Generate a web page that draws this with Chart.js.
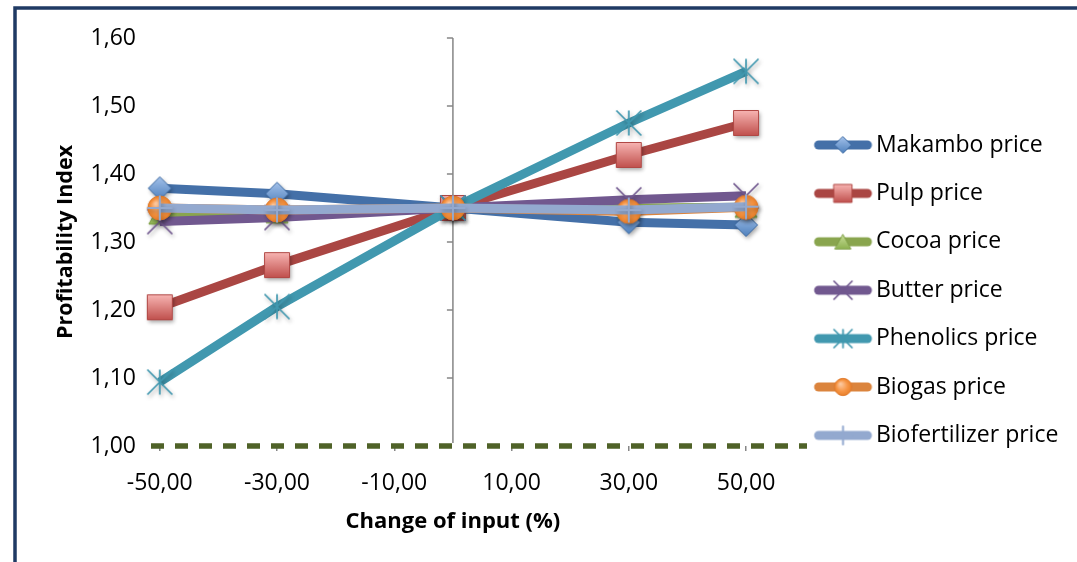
<!DOCTYPE html>
<html>
<head>
<meta charset="utf-8">
<script src="https://cdn.jsdelivr.net/npm/chart.js@4.4.1/dist/chart.umd.min.js"></script>
<style>
html,body{margin:0;padding:0;background:#fff;}
#wrap{position:relative;width:1077px;height:562px;}
canvas{display:block;}
</style>
</head>
<body>
<div id="wrap"><canvas id="c" width="1077" height="562"></canvas></div>
<script>
// ---- data ----
const changes = [-50, -30, 0, 30, 50];
const xTickValues = [-50, -30, -10, 10, 30, 50];
const yTickValues = [1.00, 1.10, 1.20, 1.30, 1.40, 1.50, 1.60];
const seriesNames = ['Makambo price', 'Pulp price', 'Cocoa price', 'Butter price', 'Phenolics price', 'Biogas price', 'Biofertilizer price'];
const makambo       = [1.379, 1.371, 1.350, 1.329, 1.325];
const pulp          = [1.204, 1.266, 1.350, 1.428, 1.475];
const cocoa         = [1.341, 1.343, 1.350, 1.350, 1.351];
const butter        = [1.330, 1.336, 1.350, 1.362, 1.368];
const phenolics     = [1.094, 1.205, 1.350, 1.475, 1.551];
const biogas        = [1.350, 1.347, 1.350, 1.345, 1.351];
const biofertilizer = [1.350, 1.347, 1.350, 1.347, 1.352];
const breakEven = 1.00;
const xTitle = 'Change of input (%)';
const yTitle = 'Profitability Index';

// ---- styles ----
const seriesValues = [makambo, pulp, cocoa, butter, phenolics, biogas, biofertilizer];
const lineColors = ['#4470a8', '#aa4643', '#89a54e', '#71588f', '#4198af', '#db843d', '#93a9cf'];
const markerKinds = ['diamond', 'square', 'triangle', 'x', 'star', 'circle', 'plus'];
const FONT = '"Open Sans", "Noto Sans", sans-serif';
const LEGEND_SIZE = 23;

function drawMarker(ctx, kind, cx, cy, k, shadow) {
  ctx.save();
  if (shadow) {
    ctx.shadowColor = 'rgba(0,0,0,0.35)';
    ctx.shadowBlur = 4;
    ctx.shadowOffsetX = 1.5;
    ctx.shadowOffsetY = 2.5;
  }
  let g;
  switch (kind) {
    case 'diamond': {
      const h = 11.5 * k;
      g = ctx.createLinearGradient(cx, cy - h, cx, cy + h);
      g.addColorStop(0, '#a3c1ea'); g.addColorStop(1, '#4f81bd');
      ctx.beginPath();
      ctx.moveTo(cx, cy - h); ctx.lineTo(cx + h, cy); ctx.lineTo(cx, cy + h); ctx.lineTo(cx - h, cy); ctx.closePath();
      ctx.fillStyle = g; ctx.fill();
      ctx.shadowColor = 'transparent';
      ctx.strokeStyle = '#3e6ba3'; ctx.lineWidth = 1; ctx.stroke();
      break;
    }
    case 'square': {
      const h = 12.5 * k;
      g = ctx.createLinearGradient(cx, cy - h, cx, cy + h);
      g.addColorStop(0, '#f7b4b2'); g.addColorStop(1, '#c0504d');
      ctx.beginPath(); ctx.rect(cx - h, cy - h, 2 * h, 2 * h);
      ctx.fillStyle = g; ctx.fill();
      ctx.shadowColor = 'transparent';
      ctx.strokeStyle = '#b04845'; ctx.lineWidth = 1; ctx.stroke();
      break;
    }
    case 'triangle': {
      const w = 11 * k, h = 10 * k;
      g = ctx.createLinearGradient(cx, cy - h, cx, cy + h);
      g.addColorStop(0, '#c8de98'); g.addColorStop(1, '#8db250');
      ctx.beginPath();
      ctx.moveTo(cx, cy - h); ctx.lineTo(cx + w, cy + h); ctx.lineTo(cx - w, cy + h); ctx.closePath();
      ctx.fillStyle = g; ctx.fill();
      ctx.shadowColor = 'transparent';
      ctx.strokeStyle = '#7e9f45'; ctx.lineWidth = 1; ctx.stroke();
      break;
    }
    case 'circle': {
      const r = 12 * k;
      g = ctx.createRadialGradient(cx - r * 0.3, cy - r * 0.35, r * 0.1, cx, cy, r);
      g.addColorStop(0, '#fbc69c'); g.addColorStop(0.6, '#f79646'); g.addColorStop(1, '#e8802b');
      ctx.beginPath(); ctx.arc(cx, cy, r, 0, Math.PI * 2);
      ctx.fillStyle = g; ctx.fill();
      ctx.shadowColor = 'transparent';
      ctx.strokeStyle = '#e07b2e'; ctx.lineWidth = 1; ctx.stroke();
      break;
    }
    case 'x': {
      const h = 12.5 * k;
      ctx.strokeStyle = '#71588f'; ctx.lineWidth = 1.7;
      ctx.beginPath();
      ctx.moveTo(cx - h, cy - h); ctx.lineTo(cx + h, cy + h);
      ctx.moveTo(cx + h, cy - h); ctx.lineTo(cx - h, cy + h);
      ctx.stroke();
      break;
    }
    case 'star': {
      const h = 12.5 * k;
      ctx.strokeStyle = '#4198af'; ctx.lineWidth = 1.7;
      ctx.beginPath();
      ctx.moveTo(cx - h, cy - h); ctx.lineTo(cx + h, cy + h);
      ctx.moveTo(cx + h, cy - h); ctx.lineTo(cx - h, cy + h);
      ctx.moveTo(cx, cy - h); ctx.lineTo(cx, cy + h);
      ctx.stroke();
      break;
    }
    case 'plus': {
      const h = 12.5 * k;
      ctx.strokeStyle = '#93a9cf'; ctx.lineWidth = 2;
      ctx.beginPath();
      ctx.moveTo(cx - h, cy); ctx.lineTo(cx + h, cy);
      ctx.moveTo(cx, cy - h); ctx.lineTo(cx, cy + h);
      ctx.stroke();
      break;
    }
  }
  ctx.restore();
}

function markerCanvas(kind) {
  const c = document.createElement('canvas');
  c.width = 40; c.height = 40;
  drawMarker(c.getContext('2d'), kind, 20, 20, 1, true);
  return c;
}

// legend sample: thick line with the series marker, offset inside the image
function legendCanvas(i) {
  const c = document.createElement('canvas');
  c.width = 80; c.height = 32;
  const ctx = c.getContext('2d');
  ctx.strokeStyle = lineColors[i];
  ctx.lineWidth = 9;
  ctx.lineCap = 'round';
  ctx.beginPath(); ctx.moveTo(10.2, 16); ctx.lineTo(59, 16); ctx.stroke();
  drawMarker(ctx, markerKinds[i], 34.6, 16, 0.72, false);
  return c;
}

const fmt = v => Number(v).toFixed(2).replace('.', ',');

const framePlugin = {
  id: 'frame',
  beforeDraw(chart) {
    const ctx = chart.ctx;
    ctx.save();
    ctx.fillStyle = '#ffffff';
    ctx.fillRect(0, 0, chart.width, chart.height);
    ctx.strokeStyle = '#1f3a64';
    ctx.lineWidth = 3.5;
    ctx.strokeRect(15, 8, chart.width + 20, chart.height + 20);
    ctx.restore();
  },
  beforeDatasetsDraw(chart) {
    const { ctx, chartArea } = chart;
    const xs = chart.scales.x, ys = chart.scales.y;
    ctx.save();
    // break-even line at PI = 1
    const yb = ys.getPixelForValue(breakEven);
    ctx.strokeStyle = '#4f6228';
    ctx.lineWidth = 5.5;
    ctx.setLineDash([13, 11]);
    ctx.beginPath(); ctx.moveTo(chartArea.left, yb); ctx.lineTo(chartArea.right, yb); ctx.stroke();
    ctx.setLineDash([]);
    // vertical axis crossing at x = 0
    const x0 = xs.getPixelForValue(0);
    ctx.strokeStyle = '#868686';
    ctx.lineWidth = 1.5;
    ctx.beginPath();
    ctx.moveTo(x0, chartArea.top); ctx.lineTo(x0, yb - 3);
    yTickValues.forEach(v => {
      const py = ys.getPixelForValue(v);
      if (v > breakEven) { ctx.moveTo(x0, py); ctx.lineTo(x0 - 6, py); }
    });
    ctx.stroke();
    ctx.restore();
  },
  afterDraw(chart) {
    const ctx = chart.ctx;
    const xs = chart.scales.x;
    ctx.save();
    ctx.font = 'bold 22px ' + FONT;
    ctx.fillStyle = '#000';
    ctx.textAlign = 'center';
    ctx.textBaseline = 'alphabetic';
    ctx.fillText(xTitle, xs.getPixelForValue(0), chart.chartArea.bottom + 82);
    ctx.restore();
  }
};

const setTicks = values => scale => { scale.ticks = values.map(v => ({ value: v })); };

const chart = new Chart(document.getElementById('c'), {
  type: 'line',
  data: {
    datasets: seriesNames.map((name, i) => ({
      label: name,
      data: changes.map((c, j) => ({ x: c, y: seriesValues[i][j] })),
      borderColor: lineColors[i],
      backgroundColor: lineColors[i],
      borderWidth: 9,
      pointStyle: markerCanvas(markerKinds[i]),
      pointRadius: 12,
      pointHoverRadius: 12,
      tension: 0,
      fill: false,
      clip: false,
      order: seriesNames.length - i
    }))
  },
  options: {
    responsive: false,
    animation: false,
    devicePixelRatio: 1,
    events: [],
    layout: { padding: { left: 0, top: 38, right: 5, bottom: 19.6 } },
    scales: {
      x: {
        type: 'linear',
        min: -51.5,
        max: 60.4,
        afterBuildTicks: setTicks(xTickValues),
        afterFit: s => { s.height = 96.4; },
        ticks: { callback: v => fmt(v), font: { family: FONT, size: 23 }, color: '#000', padding: 18.5, maxRotation: 0, autoSkip: false },
        grid: { display: true, drawOnChartArea: false, drawTicks: true, tickLength: 5, color: '#868686', lineWidth: 1.5 },
        border: { display: false }
      },
      y: {
        type: 'linear',
        position: 'left',
        min: 1.0,
        max: 1.6,
        afterBuildTicks: setTicks(yTickValues),
        afterFit: s => { s.width = 151; },
        ticks: { callback: v => fmt(v), font: { family: FONT, size: 23 }, color: '#000', padding: 15 },
        grid: { display: false, drawTicks: false },
        border: { display: false },
        title: { display: true, text: yTitle, font: { family: FONT, size: 21.5, weight: 'bold' }, color: '#000', padding: { top: 53.4, bottom: 0 } }
      }
    },
    plugins: {
      tooltip: { enabled: false },
      legend: {
        position: 'right',
        align: 'center',
        labels: {
          usePointStyle: true,
          pointStyleWidth: 32,
          padding: 48.4 - LEGEND_SIZE,
          font: { family: FONT, size: LEGEND_SIZE },
          color: '#000',
          generateLabels: ch => ch.data.datasets.map((d, i) => ({
            text: d.label,
            pointStyle: legendCanvas(i),
            fillStyle: 'transparent',
            strokeStyle: 'transparent',
            lineWidth: 0,
            hidden: false,
            datasetIndex: i,
            fontColor: '#000'
          }))
        }
      }
    }
  },
  plugins: [framePlugin]
});

// align the plot's right edge with the reference layout
for (let k = 0; k < 4; k++) {
  const dx = chart.chartArea.right - 807;
  if (Math.abs(dx) <= 0.3) break;
  chart.options.layout.padding.right = Math.max(0, chart.options.layout.padding.right + dx);
  chart.update('none');
}
</script>
</body>
</html>
